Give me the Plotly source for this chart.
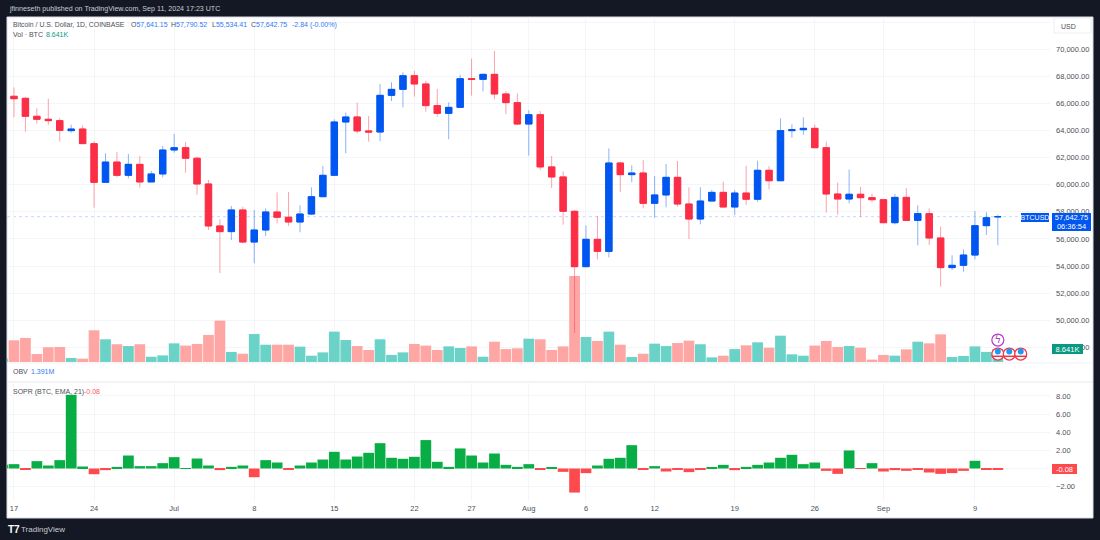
import pandas as pd
import plotly.graph_objects as go

START = "2024-06-16"
open_ = [66070,66540,66390,65060,64840,64740,64000,64120,63040,60180,61680,60700,61510,60210,60800,62570,62740,61960,60060,56960,56540,58140,55770,56660,57990,57600,57250,57840,59120,60700,64640,65010,63980,63900,66610,67050,68060,67450,65850,65280,65720,67840,67790,68160,66710,66070,64490,65180,61320,60580,58040,53950,55970,55080,61610,60750,60870,58630,59250,60550,58580,57470,58800,59440,58360,59390,58930,61070,60300,64000,64070,64170,62740,59320,58950,59300,59050,58900,57200,59070,57370,57870,56070,53880,54050,54810,56980,57641.15]
high = [66600,67200,66460,65650,66360,64940,64440,64390,63210,62330,62420,62280,62130,61020,62870,63750,63160,62080,60360,57450,58430,58380,58140,58260,59440,59470,58480,59810,61390,64840,65330,66070,65080,67450,67570,68310,68410,67690,67080,66090,68140,69320,68190,69890,66910,66760,65500,65450,62130,60995,58140,57000,57700,62690,61710,61440,61830,60650,61540,61760,59810,59810,59620,60230,59620,61410,61780,61390,64910,64470,64990,64440,63190,60160,61120,59840,59350,58950,59320,59760,58480,58260,56910,54790,55230,58060,57970,57790.52]
low = [65900,64985,63930,64520,64420,63190,63850,63040,58310,60180,60550,60480,59790,60210,60550,62370,60900,59270,56660,53480,55920,55680,54200,56220,57150,56960,56490,57770,59120,60700,62330,63800,63190,63210,66190,65720,66510,65400,65030,63360,65720,66590,66910,66320,65230,64420,62150,61090,59760,57050,49050,53950,54490,54640,59470,60180,58260,57570,58330,58380,55995,57080,58800,58330,57770,58510,58750,59670,60300,63480,63700,62740,57940,57790,58630,57620,58700,57200,57080,57350,55530,55550,52470,53700,53580,54490,56290,55534.41]
close = [66510,66360,65060,64840,64740,64020,64120,63040,60180,61680,60700,61510,60210,60800,62570,62740,61960,60060,56960,56540,58140,55770,56660,57990,57600,57250,57840,59120,60700,64640,65010,63980,63900,66610,67050,68060,67450,65850,65280,65720,67840,67790,68160,66710,66070,64490,65180,61320,60580,58040,53950,55970,55080,61610,60750,60870,58630,59250,60550,58580,57470,58800,59440,58360,59390,58930,61070,60300,64000,64070,64170,62740,59320,58950,59300,59050,58900,57200,59070,57370,57870,56070,53880,54050,54810,56980,57570,57642.75]
volume_k = [2.4,14.4,16.0,5.3,9.8,10.0,2.7,2.2,21.1,15.1,11.8,10.6,11.8,3.5,4.4,12.4,10.9,12.0,18.0,27.5,6.7,5.5,18.6,11.5,11.5,11.5,10.2,4.2,6.4,20.2,14.6,10.6,8.0,15.1,4.7,6.4,12.0,10.9,8.0,10.4,9.3,10.4,3.5,13.5,8.6,9.1,15.5,15.1,8.0,10.4,57.2,16.6,14.0,20.2,11.5,3.3,5.5,12.2,10.6,12.6,14.2,11.8,3.1,4.2,8.6,11.1,13.1,9.5,17.5,5.1,4.2,10.9,14.0,10.0,10.6,9.5,1.6,4.7,4.2,8.4,13.5,12.4,18.4,3.3,4.0,10.4,6.7,8.641]
sopr = [0.4,0.48,-0.11,0.81,0.33,0.92,8.12,0.22,-0.63,-0.18,0.18,1.43,0.26,0.26,0.59,1.25,0.04,1.10,0.33,-0.18,0.18,0.33,-0.96,0.92,0.66,-0.11,0.33,0.66,0.99,1.84,0.99,1.32,1.73,2.79,1.18,1.07,1.29,3.13,0.74,0.18,2.21,1.43,0.66,1.65,0.40,0.18,0.48,-0.11,0.11,-0.37,-2.65,-0.51,0.33,1.07,1.18,2.57,-0.11,0.26,-0.33,-0.15,-0.40,-0.11,0.15,0.40,-0.18,0.18,0.40,0.66,1.18,1.51,0.48,0.66,-0.26,-0.59,1.99,-0.04,0.59,-0.33,-0.18,-0.26,-0.11,-0.44,-0.59,-0.51,-0.26,0.85,-0.08,-0.08]
dates = pd.date_range(START, periods=len(close), freq="D")

tick_dates = ["2024-06-17","2024-06-24","2024-07-01","2024-07-08","2024-07-15","2024-07-22","2024-07-27","2024-08-01","2024-08-06","2024-08-12","2024-08-19","2024-08-26","2024-09-01","2024-09-09"]
tick_text = ["17","24","Jul","8","15","22","27","Aug","6","12","19","26","Sep","9"]
event_dates = ["2024-09-11","2024-09-12","2024-09-13"]
sopr_ticks = [-2, 2, 4, 6, 8]
price_ticks = [48000,50000,52000,54000,56000,58000,60000,62000,64000,66000,68000,70000,72000]
price_text = ["48,000.00","50,000.00","52,000.00","54,000.00","56,000.00","58,000.00","60,000.00","62,000.00","64,000.00","66,000.00","68,000.00","70,000.00",""]

W, H = 1100, 540
FONT = "Liberation Sans"
UP, DOWN = "#0056f0", "#fb2e46"
UP_W, DOWN_W = "rgba(0,86,240,0.45)", "rgba(251,46,70,0.45)"
TEAL, PINK = "#6bd2c8", "#fea6a4"
GREEN, RED = "#08ad45", "#ff4a4d"
GRID = "#f4f5f8"
TXT = "#4d5058"
BLUE_T = "#2f7bf5"
px = lambda x: x / W
py = lambda y: 1 - y / H

vol_colors = [TEAL if c >= o else PINK for o, c in zip(open_, close)]
sopr_colors = [GREEN if v >= 0 else RED for v in sopr]
body_high = [max(o, c) for o, c in zip(open_, close)]
body_low = [min(o, c) for o, c in zip(open_, close)]

fig = go.Figure()
fig.add_bar(x=dates, y=volume_k, marker=dict(color=vol_colors, line_width=0), xaxis="x", yaxis="y", name="Vol")
fig.add_trace(go.Candlestick(x=dates, open=open_, high=high, low=low, close=close, xaxis="x", yaxis="y2", name="BTCUSD wick",
    whiskerwidth=0, increasing=dict(line=dict(color=UP_W, width=1), fillcolor="rgba(0,0,0,0)"),
    decreasing=dict(line=dict(color=DOWN_W, width=1), fillcolor="rgba(0,0,0,0)")))
fig.add_trace(go.Candlestick(x=dates, open=open_, high=body_high, low=body_low, close=close, xaxis="x", yaxis="y2", name="BTCUSD",
    whiskerwidth=0, increasing=dict(line=dict(color=UP, width=1), fillcolor=UP),
    decreasing=dict(line=dict(color=DOWN, width=1), fillcolor=DOWN)))
fig.add_bar(x=dates, y=sopr, marker=dict(color=sopr_colors, line_width=0), xaxis="x2", yaxis="y3", name="SOPR")

# event markers above the last bars
fig.add_scatter(x=event_dates[:1], y=[14.6], mode="markers+text", text=["ϟ"], textposition="middle center",
    textfont=dict(color="#b23ccc", size=10, family="DejaVu Sans"),
    marker=dict(symbol="circle", size=12, color="white", line=dict(color="#b23ccc", width=1.2)), xaxis="x", yaxis="y")
fig.add_scatter(x=event_dates, y=[5.3] * 3, mode="markers",
    marker=dict(symbol="circle", size=12, color="white", line=dict(color="#f2364a", width=1.3)), xaxis="x", yaxis="y")
fig.add_scatter(x=event_dates, y=[7.0] * 3, mode="markers",
    marker=dict(symbol="circle", size=6, color="#1d9bf0"), xaxis="x", yaxis="y")
fig.add_scatter(x=event_dates, y=[3.8] * 3, mode="markers",
    marker=dict(symbol="line-ew", size=9, line=dict(color="#f2364a", width=1.5)), xaxis="x", yaxis="y")

x_range = ["2024-06-16 09:20", "2024-09-15 13:26"]
xcommon = dict(type="date", range=x_range, tickmode="array", tickvals=tick_dates, ticktext=tick_text,
               showgrid=True, gridcolor=GRID, gridwidth=1, zeroline=False, showline=False, ticks="",
               tickfont=dict(family=FONT, size=7.5, color=TXT), rangeslider=dict(visible=False), ticklabelstandoff=1)
ycommon = dict(showgrid=True, gridcolor=GRID, gridwidth=1, showline=False, ticks="",
               tickfont=dict(family=FONT, size=7.5, color=TXT), side="right", ticklabelstandoff=5)

last = close[-1]
fig.update_layout(
    width=W, height=H, autosize=False, margin=dict(l=0, r=0, t=0, b=0),
    paper_bgcolor="#141824", plot_bgcolor="rgba(0,0,0,0)", showlegend=False, hovermode=False,
    bargap=0.06, barmode="overlay", boxgap=0.2,
    xaxis=dict(domain=[px(7), px(1050)], anchor="y", showticklabels=False, **xcommon),
    xaxis2=dict(domain=[px(7), px(1050)], anchor="y3", matches="x", showticklabels=True, **xcommon),
    yaxis=dict(domain=[py(362), py(17)], range=[0, 229.4], anchor="x", visible=False, showgrid=False),
    yaxis2=dict(domain=[py(362), py(17)], range=[46907, 72397], anchor="x", overlaying="y", tickmode="array", tickvals=price_ticks, ticktext=price_text, zeroline=False, **ycommon),
    yaxis3=dict(domain=[py(501), py(382)], range=[-3.58, 9.53], anchor="x2", tickmode="array", tickvals=sopr_ticks, tickformat=".2f", zeroline=True, zerolinecolor=GRID, zerolinewidth=1, **ycommon),
    shapes=[
        dict(type="rect", xref="paper", yref="paper", x0=px(7), x1=px(1093), y0=py(518), y1=py(17), fillcolor="white", line=dict(color="#d8dbe3", width=1), layer="below"),
        dict(type="line", xref="paper", yref="paper", x0=px(7), x1=px(1093), y0=py(382), y1=py(382), line=dict(color="#e6e8f0", width=1), layer="below"),
        dict(type="line", xref="paper", yref="paper", x0=px(7), x1=px(1093), y0=py(363), y1=py(363), line=dict(color="#f0f1f5", width=1), layer="below"),
        dict(type="line", xref="x domain", yref="y2", x0=0, x1=0.971, y0=last, y1=last, line=dict(color="#c6d8fb", width=1, dash="dot"), layer="below"),
        dict(type="rect", xref="paper", yref="paper", x0=px(1054), x1=px(1091), y0=py(33), y1=py(18), fillcolor="white", line=dict(color="#eceef2", width=1), layer="above"),
    ],
)

def label(x, y, text, color=TXT, size=7, **kw):
    fig.add_annotation(xref="paper", yref="paper", x=px(x), y=py(y), text=text, showarrow=False, xanchor="left", yanchor="middle",
                       font=dict(family=FONT, size=size, color=color), **kw)

label(7, 9, "jfinneseth published on TradingView.com, Sep 11, 2024 17:23 UTC", color="#c9ccd6", size=7.1)
label(11, 25, "Bitcoin / U.S. Dollar, 1D, COINBASE", size=6.9)
for x0, letter, val in [(129, "O", "57,641.15"), (169, "H", "57,790.52"), (210, "L", "55,534.41"), (249, "C", "57,642.75")]:
    label(x0, 25, f'{letter}<span style="color:{BLUE_T}">{val}</span>')
label(290, 25, "-2.84 (-0.00%)", color=BLUE_T)
label(11, 35, "Vol · BTC")
label(44, 35, "8.641K", color="#089981")
label(11, 371, "OBV")
label(29, 371, "1.391M", color=BLUE_T)
label(11, 391.5, "SOPR (BTC, EMA, 21)")
label(82, 391.5, "-0.08", color="#fa5a5f")
label(19, 529, "TradingView", color="#c9ccd6", size=8)
label(6, 529, "<b>T7</b>", color="white", size=10)
label(1059, 26, "USD", size=7)

def tag(text, x0, x1, yref, y, yshift, height, bg, color="white", size=7):
    fig.add_annotation(xref="paper", yref=yref, x=px((x0 + x1) / 2), y=y, yshift=yshift, text=text, showarrow=False,
        xanchor="center", yanchor="middle", width=x1 - x0, height=height, align="center", valign="middle", bgcolor=bg,
        borderpad=0, borderwidth=0, font=dict(family=FONT, size=size, color=color))

tag("BTCUSD", 1021, 1049, "y2", last, -1, 9, "#0056f0")
tag("57,642.75<br>06:36:54", 1052, 1091, "y2", last, -5.5, 18, "#0056f0", size=7.5)
tag("8.641K", 1052, 1083, "y", volume_k[-1], 0, 10, "#089981", size=7.5)
tag("-0.08", 1052, 1077, "y3", sopr[-1], 0, 10, "#ff4a4d", size=7.5)

fig.write_html("out.html", config={"displayModeBar": False}, post_script="document.body.style.margin='0';document.body.style.background='#141824';")
